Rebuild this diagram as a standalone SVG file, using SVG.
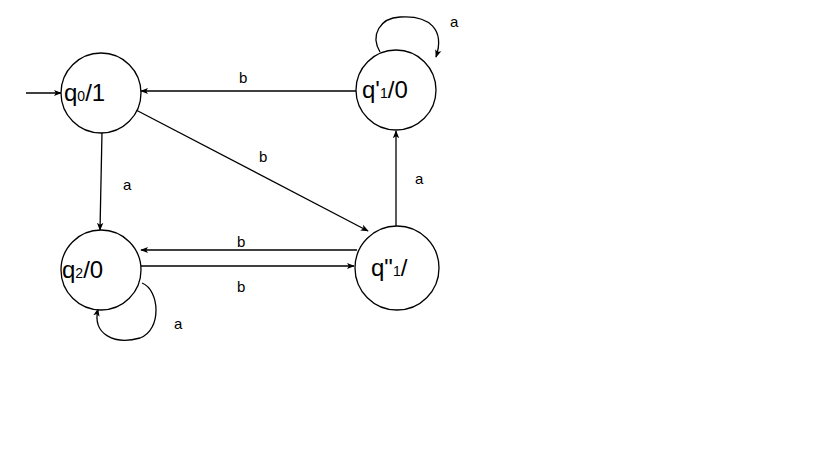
<svg xmlns="http://www.w3.org/2000/svg" width="819" height="460" viewBox="0 0 819 460">
<style>
.n{fill:#fff;stroke:#000;stroke-width:1.3}
.t{font-family:"Liberation Sans",Arial,sans-serif;font-size:24px;fill:#000}
.s{font-size:14px}
.l{font-family:"Liberation Sans",Arial,sans-serif;font-size:15px;fill:#000}
.e{fill:none;stroke:#000;stroke-width:1.3;marker-end:url(#ah)}
</style>
<defs><marker id="ah" viewBox="0 0 10 10" refX="9" refY="5" markerWidth="8" markerHeight="8" markerUnits="userSpaceOnUse" orient="auto"><path d="M0,1 L10,5 L0,9 L2.5,5 Z" fill="#000"/></marker></defs>
<rect width="819" height="460" fill="#fff"/>
<g id="edges">
<path class="e" d="M26,93 H61"/>
<path class="e" d="M356,91 H141"/>
<path class="e" d="M136,110 L368,231"/>
<path class="e" d="M102,132 L100,230"/>
<path class="e" d="M396,226 V131"/>
<path class="e" d="M357,250 H141"/>
<path class="e" d="M141,266 H354"/>
<path class="e" d="M380,52 C370,35 380,18 400,17 C430,15 445,30 436,57"/>
<path class="e" d="M142,283 C160,290 162,330 140,338 C115,345 92,335 98,309"/>
<text class="l" x="239" y="83">b</text>
<text class="l" x="259" y="162">b</text>
<text class="l" x="123" y="190">a</text>
<text class="l" x="415" y="184">a</text>
<text class="l" x="237" y="247">b</text>
<text class="l" x="237" y="292">b</text>
<text class="l" x="450" y="27">a</text>
<text class="l" x="174" y="329">a</text>
</g>
<g id="q0"><circle class="n" cx="101" cy="93" r="40"/><text class="t" x="64" y="101">q<tspan class="s">0</tspan>/1</text></g>
<g id="q1p"><circle class="n" cx="396" cy="90" r="40"/><text class="t" x="362" y="98">q'<tspan class="s">1</tspan>/0</text></g>
<g id="q2"><circle class="n" cx="101" cy="270" r="40"/><text class="t" x="62" y="278">q<tspan class="s">2</tspan>/0</text></g>
<g id="q1pp"><circle class="n" cx="397" cy="268" r="42"/><text class="t" x="371" y="276">q"<tspan class="s">1</tspan>/</text></g>
</svg>
